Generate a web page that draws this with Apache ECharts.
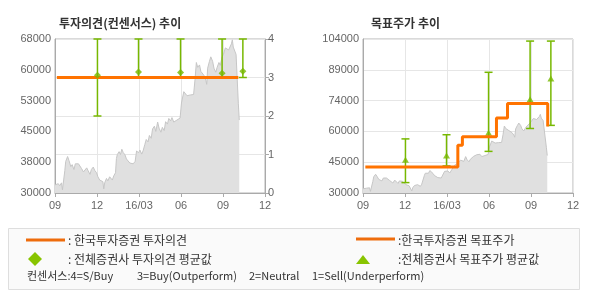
<!DOCTYPE html>
<html><head><meta charset="utf-8">
<script src="https://cdn.jsdelivr.net/npm/echarts@6/dist/echarts.min.js"></script>
<style>html,body{margin:0;padding:0;background:#fff;}#c{width:590px;height:300px;}</style>
</head><body><div id="c"></div>
<script>
// ---- data ----
const xTickLabels = ['09', '12', '16/03', '06', '09', '12'];
const priceDates = ['2015-09-01','2015-09-04','2015-09-08','2015-09-11','2015-09-15','2015-09-17','2015-09-21','2015-09-22','2015-09-24','2015-09-28',
'2015-10-01','2015-10-05','2015-10-08','2015-10-12','2015-10-15','2015-10-19','2015-10-22','2015-10-26','2015-10-29',
'2015-11-02','2015-11-05','2015-11-09','2015-11-12','2015-11-16','2015-11-19','2015-11-23','2015-11-26','2015-11-30',
'2015-12-03','2015-12-07','2015-12-10','2015-12-14','2015-12-16','2015-12-18','2015-12-22','2015-12-25','2015-12-29',
'2016-01-04','2016-01-07','2016-01-11','2016-01-13','2016-01-15','2016-01-19','2016-01-22','2016-01-25','2016-01-28',
'2016-02-01','2016-02-04','2016-02-11','2016-02-15','2016-02-18','2016-02-22','2016-02-25','2016-02-29',
'2016-03-03','2016-03-07','2016-03-10','2016-03-14','2016-03-17','2016-03-21','2016-03-24','2016-03-28','2016-03-31',
'2016-04-04','2016-04-07','2016-04-11','2016-04-14','2016-04-18','2016-04-21','2016-04-25','2016-04-28',
'2016-05-02','2016-05-05','2016-05-09','2016-05-12','2016-05-16','2016-05-19','2016-05-23','2016-05-26','2016-05-30',
'2016-06-02','2016-06-07','2016-06-10','2016-06-14','2016-06-17','2016-06-21','2016-06-24','2016-06-28',
'2016-07-01','2016-07-04','2016-07-07','2016-07-11','2016-07-14','2016-07-18','2016-07-21','2016-07-25','2016-07-27','2016-07-29',
'2016-08-02','2016-08-05','2016-08-09','2016-08-12','2016-08-16','2016-08-19','2016-08-23','2016-08-26','2016-08-30',
'2016-09-02','2016-09-06','2016-09-09','2016-09-13','2016-09-19','2016-09-21','2016-09-23','2016-09-27','2016-09-29',
'2016-10-04','2016-10-06'];
const prices = [32000,31600,32300,31800,32500,30800,31200,35500,37800,39000,
38000,36500,37000,35800,37200,36800,37200,36900,36000,
35200,34800,36200,35500,34600,35800,36400,35600,35000,
34000,33200,33500,32800,31000,32500,33600,33000,34000,
33200,34200,35000,38500,39500,40200,39500,40800,40000,
39400,38400,37400,37600,37200,37800,40400,39900,
40600,39600,40400,42000,43200,42600,44200,43500,45800,
46500,45200,47500,46000,45000,46200,45400,47600,
47000,48400,47800,48600,47500,47200,48000,47600,48500,
52200,55000,54600,54000,53600,54200,53900,54300,
58000,62200,61000,61600,60000,60300,59000,57800,56800,60800,
62500,63600,62500,60800,59800,61000,62200,61500,63600,
64200,65800,66200,65300,66800,67800,66000,64800,64200,
52000,48000];
// 한국투자증권 투자의견 (3 = Buy)
const opinionDates = ['2015-09-05', '2016-10-04'];
const opinionValues = [3, 3];
// 전체증권사 투자의견
const consDates = ['2015-12-02', '2016-02-29', '2016-05-31', '2016-08-30', '2016-10-14'];
const consOpHigh = [4, 4, 4, 4, 4];
const consOpLow = [2, 3, 3, 3, 3];
const consOpMean = [3.06, 3.14, 3.13, 3.11, 3.16];
// 한국투자증권 목표주가
const targetDates = ['2015-09-06', '2016-03-25', '2016-04-04', '2016-06-17', '2016-07-11', '2016-10-07'];
const targetValues = [42500, 53000, 57000, 66000, 73000, 62000];
// 전체증권사 목표주가
const consTpHigh = [56000, 58000, 88000, 103000, 103000];
const consTpLow = [35000, 43000, 50000, 61000, 62500];
const consTpMean = [46000, 48000, 59000, 75000, 85000];

// ---- helpers ----
function monthIdx(s) {
  const p = s.split('-').map(Number);
  const dim = new Date(p[0], p[1], 0).getDate();
  return (p[0] - 2015) * 12 + (p[1] - 9) + (p[2] - 1) / dim;
}
const zip = (d, v) => d.map((x, i) => [monthIdx(x), v[i]]);
const priceData = zip(priceDates, prices);
const GREEN = '#77b800', ORANGE = '#ff7300';
const FONT = '"Liberation Sans", Arial, sans-serif';
const KFONT = '"Noto Sans CJK KR", sans-serif';

function errRender(params, api) {
  const x = api.value(0), lo = api.value(1), hi = api.value(2);
  const a = api.coord([x, hi]), b = api.coord([x, lo]);
  const w = 4, st = { stroke: GREEN, lineWidth: 1.5 };
  return { type: 'group', children: [
    { type: 'line', shape: { x1: a[0], y1: a[1], x2: b[0], y2: b[1] }, style: st },
    { type: 'line', shape: { x1: a[0] - w, y1: a[1], x2: a[0] + w, y2: a[1] }, style: st },
    { type: 'line', shape: { x1: b[0] - w, y1: b[1], x2: b[0] + w, y2: b[1] }, style: st }
  ]};
}

const axisLbl = { color: '#666', fontSize: 11, fontFamily: FONT };
const gridLine = { show: true, lineStyle: { color: '#e6e6e6', width: 1 } };
function xAxis(gi) {
  return { type: 'value', gridIndex: gi, min: 0, max: 15, interval: 3,
    axisLine: { show: true, lineStyle: { color: '#aaa' } },
    axisTick: { show: true, length: 4, lineStyle: { color: '#aaa' } },
    axisLabel: Object.assign({ margin: 7, formatter: v => xTickLabels[Math.round(v / 3)] }, axisLbl),
    splitLine: gridLine };
}
const roundK = v => String(Math.round(v / 1000) * 1000);

const option = {
  animation: false,
  backgroundColor: '#fff',
  title: [
    { text: '투자의견(컨센서스) 추이', left: 54, top: 12, textStyle: { fontSize: 12, fontWeight: 'bold', color: '#333', fontFamily: KFONT } },
    { text: '목표주가 추이', left: 366, top: 12, textStyle: { fontSize: 12, fontWeight: 'bold', color: '#333', fontFamily: KFONT } }
  ],
  grid: [
    { left: 55, top: 39, width: 210, height: 154, show: true, borderColor: '#b4b4b4', borderWidth: 1, backgroundColor: 'transparent' },
    { left: 363, top: 39, width: 210, height: 154, show: true, borderColor: '#b4b4b4', borderWidth: 1, backgroundColor: 'transparent' }
  ],
  xAxis: [xAxis(0), xAxis(1)],
  yAxis: [
    { type: 'value', gridIndex: 0, min: 30000, max: 68000, interval: 7600, position: 'left',
      axisLine: { show: true, lineStyle: { color: '#aaa' } }, axisTick: { show: false },
      axisLabel: Object.assign({ margin: 4, formatter: roundK }, axisLbl), splitLine: { show: false } },
    { type: 'value', gridIndex: 0, min: 0, max: 4, interval: 1, position: 'right',
      axisLine: { show: true, lineStyle: { color: '#aaa' } },
      axisTick: { show: true, length: 4, lineStyle: { color: '#aaa' } },
      axisLabel: Object.assign({ margin: 3 }, axisLbl), splitLine: gridLine },
    { type: 'value', gridIndex: 1, min: 30000, max: 104000, interval: 14800, position: 'left',
      axisLine: { show: true, lineStyle: { color: '#aaa' } }, axisTick: { show: false },
      axisLabel: Object.assign({ margin: 4, formatter: roundK }, axisLbl), splitLine: gridLine }
  ],
  series: [
    { type: 'line', xAxisIndex: 0, yAxisIndex: 0, data: priceData, showSymbol: false, z: 1,
      lineStyle: { color: '#c6c6c6', width: 1 }, areaStyle: { color: '#e0e0e0', opacity: 1 } },
    { type: 'custom', xAxisIndex: 0, yAxisIndex: 1, renderItem: errRender, z: 2,
      encode: { x: 0, y: [1, 2] },
      data: consDates.map((d, i) => [monthIdx(d), consOpLow[i], consOpHigh[i]]) },
    { type: 'line', xAxisIndex: 0, yAxisIndex: 1, data: zip(opinionDates, opinionValues), showSymbol: false, z: 3,
      lineStyle: { color: ORANGE, width: 3 } },
    { type: 'scatter', xAxisIndex: 0, yAxisIndex: 1, data: zip(consDates, consOpMean), symbol: 'diamond', symbolSize: 7, z: 4,
      itemStyle: { color: GREEN } },

    { type: 'line', xAxisIndex: 1, yAxisIndex: 2, data: priceData, showSymbol: false, z: 1,
      lineStyle: { color: '#c6c6c6', width: 1 }, areaStyle: { color: '#e0e0e0', opacity: 1 } },
    { type: 'custom', xAxisIndex: 1, yAxisIndex: 2, renderItem: errRender, z: 2,
      encode: { x: 0, y: [1, 2] },
      data: consDates.map((d, i) => [monthIdx(d), consTpLow[i], consTpHigh[i]]) },
    { type: 'scatter', xAxisIndex: 1, yAxisIndex: 2, data: zip(consDates, consTpMean), symbol: 'triangle', symbolSize: [7, 6], z: 3,
      itemStyle: { color: GREEN } },
    { type: 'line', xAxisIndex: 1, yAxisIndex: 2, data: zip(targetDates, targetValues), step: 'end', showSymbol: false, z: 4,
      lineStyle: { color: ORANGE, width: 3 } }
  ],
  graphic: [
    { type: 'rect', shape: { x: 8.5, y: 228.5, width: 571, height: 61 }, style: { fill: '#fafafa', stroke: '#dedede', lineWidth: 1 } },
    { type: 'line', shape: { x1: 26, y1: 240, x2: 65, y2: 240 }, style: { stroke: '#ee6c0c', lineWidth: 3 } },
    { type: 'text', x: 68, y: 240, style: { text: ': 한국투자증권 투자의견', fill: '#333', font: '12px ' + KFONT, verticalAlign: 'middle' } },
    { type: 'polygon', shape: { points: [[35, 252], [42, 259], [35, 266], [28, 259]] }, style: { fill: '#88c400' } },
    { type: 'text', x: 68, y: 259, style: { text: ': 전체증권사 투자의견 평균값', fill: '#333', font: '12px ' + KFONT, verticalAlign: 'middle' } },
    { type: 'line', shape: { x1: 356, y1: 239, x2: 395, y2: 239 }, style: { stroke: '#ee6c0c', lineWidth: 3 } },
    { type: 'text', x: 398, y: 240, style: { text: ':한국투자증권 목표주가', fill: '#333', font: '12px ' + KFONT, verticalAlign: 'middle' } },
    { type: 'polygon', shape: { points: [[363, 255], [370, 264], [356, 264]] }, style: { fill: '#88c400' } },
    { type: 'text', x: 398, y: 259, style: { text: ':전체증권사 목표주가 평균값', fill: '#333', font: '12px ' + KFONT, verticalAlign: 'middle' } },
    { type: 'text', x: 27, y: 276, style: { text: '컨센서스:4=S/Buy', fill: '#333', font: '11px ' + KFONT, verticalAlign: 'middle' } },
    { type: 'text', x: 137, y: 276, style: { text: '3=Buy(Outperform)', fill: '#333', font: '11px ' + KFONT, verticalAlign: 'middle' } },
    { type: 'text', x: 249, y: 276, style: { text: '2=Neutral', fill: '#333', font: '11px ' + KFONT, verticalAlign: 'middle' } },
    { type: 'text', x: 312, y: 276, style: { text: '1=Sell(Underperform)', fill: '#333', font: '11px ' + KFONT, verticalAlign: 'middle' } }
  ]
};
const chart = echarts.init(document.getElementById('c'), null, { renderer: 'canvas' });
chart.setOption(option);
</script></body></html>
